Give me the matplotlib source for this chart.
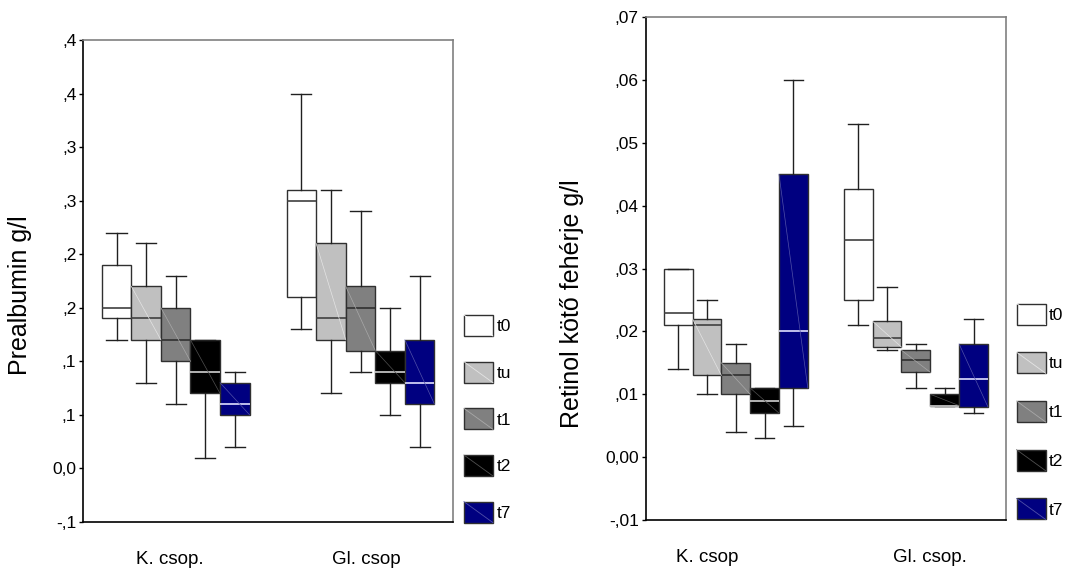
import matplotlib
matplotlib.use("Agg")
import matplotlib.pyplot as plt
from matplotlib.patches import Patch, Rectangle
from matplotlib.lines import Line2D
from matplotlib.legend_handler import HandlerBase

plt.rcParams['font.family'] = ['Liberation Sans', 'DejaVu Sans']

# ---------------- data ----------------
series = ['t0', 'tu', 't1', 't2', 't7']

# Left chart: Prealbumin g/l
pre_groups = ['K. csop.', 'Gl. csop']
pre_whishi_K = [0.22, 0.21, 0.18, 0.12, 0.09]
pre_q3_K     = [0.19, 0.17, 0.15, 0.12, 0.08]
pre_med_K    = [0.15, 0.14, 0.12, 0.09, 0.06]
pre_q1_K     = [0.14, 0.12, 0.10, 0.07, 0.05]
pre_whislo_K = [0.12, 0.08, 0.06, 0.01, 0.02]

pre_whishi_G = [0.35, 0.26, 0.24, 0.15, 0.18]
pre_q3_G     = [0.26, 0.21, 0.17, 0.11, 0.12]
pre_med_G    = [0.25, 0.14, 0.15, 0.09, 0.08]
pre_q1_G     = [0.16, 0.12, 0.11, 0.08, 0.06]
pre_whislo_G = [0.13, 0.07, 0.09, 0.05, 0.02]

pre_ticks = [-0.05, 0.0, 0.05, 0.10, 0.15, 0.20, 0.25, 0.30, 0.35, 0.40]
pre_ticklabels = ['-,1', '0,0', ',1', ',1', ',2', ',2', ',3', ',3', ',4', ',4']

# Right chart: Retinol kötő fehérje g/l
rbp_groups = ['K. csop', 'Gl. csop.']
rbp_whishi_K = [0.030, 0.025, 0.018, 0.011, 0.060]
rbp_q3_K     = [0.030, 0.022, 0.015, 0.011, 0.045]
rbp_med_K    = [0.023, 0.021, 0.013, 0.009, 0.020]
rbp_q1_K     = [0.021, 0.013, 0.010, 0.007, 0.011]
rbp_whislo_K = [0.014, 0.010, 0.004, 0.003, 0.005]

rbp_whishi_G = [0.053, 0.027, 0.018, 0.011, 0.022]
rbp_q3_G     = [0.0426, 0.0216, 0.017, 0.010, 0.018]
rbp_med_G    = [0.0345, 0.019, 0.0155, 0.0082, 0.0125]
rbp_q1_G     = [0.025, 0.0175, 0.0135, 0.0082, 0.008]
rbp_whislo_G = [0.021, 0.017, 0.011, 0.0082, 0.007]

rbp_ticks = [-0.01, 0.0, 0.01, 0.02, 0.03, 0.04, 0.05, 0.06, 0.07]
rbp_ticklabels = ['-,01', '0,00', ',01', ',02', ',03', ',04', ',05', ',06', ',07']

# ---------------- style ----------------
fills = ['#ffffff', '#c0c0c0', '#808080', '#000000', '#000080']
diag_cols = ['#ffffff', '#e4e4e4', '#a8a8a8', '#505050', '#5050a8']
med_cols = ['#404040', '#404040', '#303030', '#d0d0d0', '#e0e0ff']
edge_col = '#303030'
BW = 0.16


class DiagHandler(HandlerBase):
    def create_artists(self, legend, orig_handle, xdescent, ydescent,
                       width, height, fontsize, trans):
        fc = orig_handle.get_facecolor()
        dc = orig_handle.diag_color
        r = Rectangle((-xdescent, -ydescent), width, height, facecolor=fc,
                      edgecolor=edge_col, lw=1.0, transform=trans)
        l = Line2D([-xdescent, -xdescent + width], [-ydescent + height, -ydescent],
                   color=dc, lw=0.6, transform=trans)
        return [r, l]


def draw(ax, groups, label_pos, K, G, ticks, ticklabels, ylim):
    for gi, data in enumerate([K, G]):
        whishi, q3, med, q1, whislo = data
        for i in range(len(series)):
            pos = gi + (i - 2) * BW
            st = dict(whislo=whislo[i], q1=q1[i], med=med[i], q3=q3[i],
                      whishi=whishi[i], fliers=[])
            ax.bxp([st], positions=[pos], widths=BW, patch_artist=True,
                   showfliers=False, capwidths=BW * 0.68,
                   boxprops=dict(facecolor=fills[i], edgecolor=edge_col, lw=1.0),
                   medianprops=dict(color=med_cols[i], lw=1.2),
                   whiskerprops=dict(color='#202020', lw=1.0),
                   capprops=dict(color='#202020', lw=1.0), zorder=2)
            if i > 0:
                ax.plot([pos - BW / 2, pos + BW / 2], [q3[i], q1[i]],
                        color=diag_cols[i], lw=0.5, zorder=2.5)
    ax.set_xlim(-0.5, 1.5)
    ax.set_ylim(*ylim)
    ax.set_xticks(label_pos)
    ax.set_xticklabels(groups, fontsize=13.5)
    ax.tick_params(axis='x', length=0, pad=21)
    ax.set_yticks(ticks)
    ax.set_yticklabels(ticklabels, fontsize=12.5)
    ax.tick_params(axis='y', length=3, width=1, color='black', pad=2)
    ax.spines['left'].set_color('black')
    ax.spines['bottom'].set_color('black')
    ax.spines['top'].set_color('#808080')
    ax.spines['right'].set_color('#808080')
    for s in ax.spines.values():
        s.set_linewidth(1.2)


fig = plt.figure(figsize=(10.69, 5.76), dpi=100)
ax1 = fig.add_axes([0.0779, 0.0938, 0.3458, 0.8368])
ax2 = fig.add_axes([0.604, 0.0972, 0.337, 0.8733])

draw(ax1, pre_groups, [-0.03, 1.03],
     [pre_whishi_K, pre_q3_K, pre_med_K, pre_q1_K, pre_whislo_K],
     [pre_whishi_G, pre_q3_G, pre_med_G, pre_q1_G, pre_whislo_G],
     pre_ticks, pre_ticklabels, (-0.05, 0.40))
draw(ax2, rbp_groups, [-0.16, 1.08],
     [rbp_whishi_K, rbp_q3_K, rbp_med_K, rbp_q1_K, rbp_whislo_K],
     [rbp_whishi_G, rbp_q3_G, rbp_med_G, rbp_q1_G, rbp_whislo_G],
     rbp_ticks, rbp_ticklabels, (-0.01, 0.07))

ax1.set_ylabel('Prealbumin g/l', fontsize=18)
ax1.yaxis.set_label_coords(-0.14, 0.47)
ax2.set_ylabel('Retinol kötő fehérje g/l', fontsize=18)
ax2.yaxis.set_label_coords(-0.17, 0.43)


def make_handles():
    hs = []
    for i, s in enumerate(series):
        p = Patch(facecolor=fills[i], edgecolor=edge_col, label=s)
        p.diag_color = diag_cols[i]
        hs.append(p)
    return hs


for anchor, spacing in [((0.434, 0.453), 1.48), ((0.951, 0.473), 1.6)]:
    fig.legend(handles=make_handles(), handler_map={Patch: DiagHandler()},
               loc='upper left', bbox_to_anchor=anchor, frameon=False,
               fontsize=12.5, handlelength=1.67, handleheight=1.48,
               handletextpad=0.2, labelspacing=spacing,
               borderpad=0, borderaxespad=0)

fig.savefig('out.png', dpi=100)
